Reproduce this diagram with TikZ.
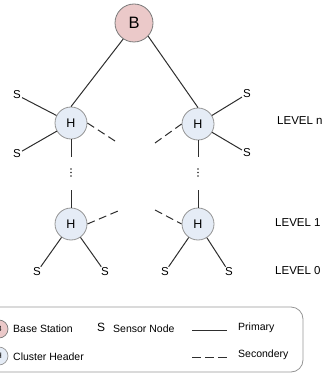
\documentclass[tikz,border=0pt]{standalone}
\usepackage{fontspec}
\setmainfont{Liberation Sans}
\definecolor{bfill}{HTML}{EBC9C9}
\definecolor{hfill}{HTML}{E5ECF6}
\definecolor{linec}{HTML}{2E2E2E}
\definecolor{bordc}{HTML}{7A7A7A}
\begin{document}
\begin{tikzpicture}[x=1pt,y=-1pt,
  base/.style={circle,draw=bordc,fill=bfill,minimum size=38pt,inner sep=0pt,line width=0.8pt,font=\fontsize{16.5}{16.5}\selectfont},
  head/.style={circle,draw=bordc!80,fill=hfill,minimum size=32pt,inner sep=0pt,line width=0.8pt,font=\fontsize{12.5}{12.5}\selectfont},
  sens/.style={inner sep=1pt,font=\fontsize{11.5}{11.5}\selectfont},
  lvl/.style={anchor=west,inner sep=0pt,font=\fontsize{11.5}{11.5}\selectfont},
  prim/.style={draw=linec,line width=1pt},
  sec/.style={draw=linec,line width=1pt,dash pattern=on 8pt off 4.5pt},
  leg/.style={anchor=west,inner sep=0pt,font=\fontsize{10.5}{10.5}\selectfont},
  dotm/.style={fill=linec}
]
\useasboundingbox (0,0) rectangle (326,374);
\clip (0,0) rectangle (326,374);

% nodes
\node[base] (B) at (134,23) {B};
\node[head] (H1) at (71,123) {H};
\node[head] (H2) at (198,124) {H};
\node[head] (H3) at (71,224) {H};
\node[head] (H4) at (198,224) {H};

\node[sens] (S1) at (17,95) {S};
\node[sens] (S2) at (17,154) {S};
\node[sens] (S3) at (247,94) {S};
\node[sens] (S4) at (247,153) {S};
\node[sens] (S5) at (37,272) {S};
\node[sens] (S6) at (105,272) {S};
\node[sens] (S7) at (165,272) {S};
\node[sens] (S8) at (229,272) {S};

\node[lvl] (Ln) at (277,121) {LEVEL n};
\node[lvl] (L1) at (275,223) {LEVEL 1};
\node[lvl] (L0) at (275,271) {LEVEL 0};

% primary links
\draw[prim] (B.236) -- (H1.north);
\draw[prim] (B.-43) -- (H2.north);
\draw[prim] (S1) -- (H1);
\draw[prim] (S2) -- (H1);
\draw[prim] (S3) -- (H2);
\draw[prim] (S4) -- (H2);
\draw[prim] (S5) -- (H3);
\draw[prim] (S6) -- (H3);
\draw[prim] (S7) -- (H4);
\draw[prim] (S8) -- (H4);

% vertical continuation
\coordinate (v1) at (71,157);
\coordinate (v2) at (71,190);
\coordinate (v3) at (198,157);
\coordinate (v4) at (198,190);
\draw[prim] (H1) -- (v1);
\draw[prim] (v2) -- (H3);
\draw[prim] (H2) -- (v3);
\draw[prim] (v4) -- (H4);
\foreach \yy in {169,172.5,176}{
  \fill[dotm] (71,\yy) circle (0.95pt);
  \fill[dotm] (198,\yy) circle (0.95pt);
}

% secondary links
\coordinate (d1) at (115,141);
\coordinate (d2) at (155,143);
\coordinate (d3) at (118,211);
\coordinate (d4) at (155,210);
\draw[sec] (H1.east) -- (d1);
\draw[sec] (d2) -- (H2.west);
\draw[sec] (H3.east) -- (d3);
\draw[sec] (d4) -- (H4.west);

% legend
\draw[draw=bordc!80,line width=0.8pt,rounded corners=12pt] (-20,307) rectangle (303,372);
\node[circle,draw=bordc,fill=bfill,minimum size=18pt,inner sep=0pt,line width=0.7pt,font=\fontsize{8}{8}\selectfont] (LB) at (-1,329) {B};
\node[circle,draw=bordc!80,fill=hfill,minimum size=18pt,inner sep=0pt,line width=0.7pt,font=\fontsize{8}{8}\selectfont] (LH) at (-1,356) {H};
\node[leg] (tB) at (13,329) {Base Station};
\node[leg] (tH) at (13,357) {Cluster Header};
\node[leg,font=\fontsize{12}{12}\selectfont] (tS) at (97,327) {S};
\node[leg] (tSN) at (113,329) {Sensor Node};
\coordinate (p1) at (192,330);
\coordinate (p2) at (227,330);
\draw[prim] (p1) -- (p2);
\node[leg] (tP) at (238,328) {Primary};
\coordinate (q1) at (192,357);
\coordinate (q2) at (227,357);
\draw[prim,dash pattern=on 9pt off 4pt] (q1) -- (q2);
\node[leg] (tQ) at (238,355) {Secondery};
\end{tikzpicture}
\end{document}
